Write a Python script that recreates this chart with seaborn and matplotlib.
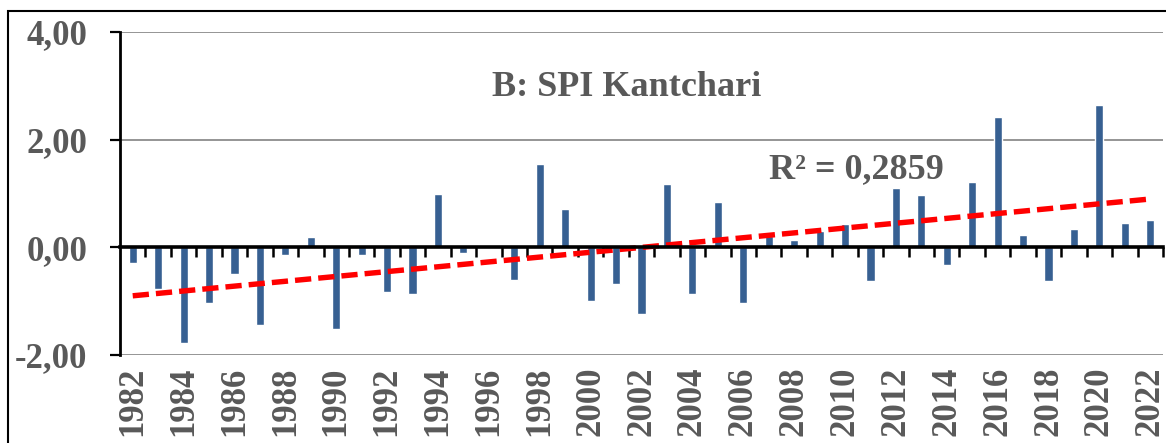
import numpy as np
import pandas as pd
import matplotlib.pyplot as plt
import seaborn as sns
from matplotlib.patches import Rectangle
from matplotlib.ticker import FixedLocator, FuncFormatter

# SPI values, one per year
years = list(range(1982, 2023))
spi = [-0.30, -0.78, -1.77, -1.03, -0.50, -1.45, -0.15, 0.19, -1.51, -0.15,
       -0.83, -0.87, 0.99, -0.10, -0.02, -0.61, 1.54, 0.72, -0.99, -0.68,
       -1.23, 1.18, -0.87, 0.84, -1.04, 0.21, 0.13, 0.30, 0.44, -0.63,
       1.11, 0.98, -0.33, 1.22, 2.42, 0.22, -0.63, 0.34, 2.64, 0.45, 0.50]
title = "B: SPI Kantchari"
r2_label = "R² = 0,2859"
y_ticks = [-2, 0, 2, 4]

df = pd.DataFrame({"year": [str(y) for y in years], "spi": spi})
df["idx"] = np.arange(len(df))

sns.set_style("white")
plt.rcParams["font.family"] = ["Liberation Serif", "DejaVu Serif"]
plt.rcParams["font.weight"] = "bold"
grey = "#595959"

fig = plt.figure(figsize=(11.66, 4.43), dpi=100)
ax = fig.add_axes([120 / 1166, 1 - 355 / 443, 1043 / 1166, (355 - 32) / 443])

sns.barplot(data=df, x="year", y="spi", color="#376092", saturation=1,
            width=0.32, ax=ax)
sns.regplot(data=df, x="idx", y="spi", scatter=False, ci=None, ax=ax,
            line_kws=dict(color="#ff0000", lw=3.9, dashes=(3.0, 1.3)))

ax.set_xlim(-0.5, len(years) - 0.5)
ax.set_ylim(-2, 4)
ax.set_xlabel("")
ax.set_ylabel("")

# y axis
ax.set_yticks(y_ticks)
ax.yaxis.set_major_formatter(FuncFormatter(lambda v, p: f"{v:.2f}".replace(".", ",")))
ax.tick_params(axis="y", direction="out", length=7.5, width=1.6, color="black",
               pad=16, labelsize=25, labelcolor=grey, left=True)
ax.yaxis.grid(True, color="#8c8c8c", lw=1.3)
ax.set_axisbelow(True)

# x axis sits on zero, labels drop below the plot
for s in ["top", "right"]:
    ax.spines[s].set_visible(False)
ax.spines["bottom"].set_position(("data", 0))
ax.spines["bottom"].set_linewidth(2.6)
ax.spines["bottom"].set_color("black")
ax.spines["left"].set_linewidth(2.0)
ax.spines["left"].set_color("black")

ax.set_xticks(range(0, len(years), 2))
ax.set_xticklabels([str(y) for y in years[::2]], rotation=90, va="top")
ax.xaxis.set_minor_locator(FixedLocator(np.arange(0.5, len(years), 1)))
ax.tick_params(axis="x", which="major", length=0, pad=86, labelsize=25,
               labelcolor=grey, bottom=True)
ax.tick_params(axis="x", which="minor", direction="out", length=7.5, width=1.8,
               color="black", bottom=True)

fig.text(627 / 1166, 1 - 88 / 443, title, ha="center", va="center",
         fontsize=26, fontweight="bold", color=grey)
fig.text(856 / 1166, 1 - 170 / 443, r2_label, ha="center", va="center",
         fontsize=26, fontweight="bold", color=grey)

# outer chart-area frame, cropped at the right and bottom
fig.patches.append(Rectangle((8 / 1166, -0.5), 2, 1.5 - 11 / 443, fill=False,
                             ec="black", lw=1.5, transform=fig.transFigure))

fig.savefig("out.png", dpi=100)
